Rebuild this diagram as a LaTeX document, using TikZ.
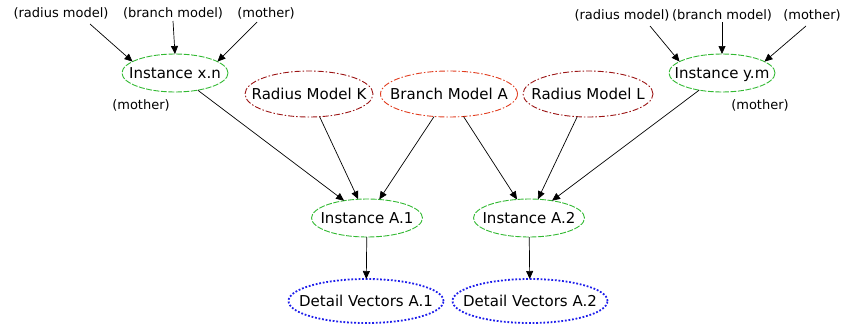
\documentclass[tikz,border=0pt]{standalone}
\usepackage{fontspec}
\setmainfont{DejaVu Sans}
\usetikzlibrary{arrows.meta,shapes.geometric}
\newcommand{\ctext}[1]{\makebox[0pt]{\raisebox{-0.36em}[0pt][0pt]{#1}}}
\begin{document}
\begin{tikzpicture}[x=1pt,y=-1pt,
  base/.style={ellipse,inner sep=0pt,outer sep=0pt,font=\fontsize{15}{17}\selectfont},
  inst/.style={base,draw={rgb,255:red,50;green,185;blue,50},line width=0.9pt,dash pattern=on 6pt off 1.5pt,minimum width=106pt,minimum height=38pt},
  radm/.style={base,draw={rgb,255:red,155;green,20;blue,20},line width=0.9pt,dash pattern=on 6pt off 2pt on 1.5pt off 2pt,minimum width=128pt,minimum height=46pt},
  bram/.style={radm,draw={rgb,255:red,225;green,60;blue,30},minimum width=137pt},
  detv/.style={base,draw={rgb,255:red,30;green,30;blue,235},line width=1.8pt,dash pattern=on 1.8pt off 1.8pt,minimum width=155pt,minimum height=44pt},
  lab/.style={font=\fontsize{13}{15}\selectfont,inner sep=0pt},
  arr/.style={-{Triangle[length=8pt,width=7pt]},line width=0.7pt}]
\useasboundingbox (0,0) rectangle (842,327);
\node[inst] (xn) at (175,73) {\ctext{Instance x.n}};
\node[radm] (rk) at (309,94) {\ctext{Radius Model K}};
\node[bram] (ba) at (449,94) {\ctext{Branch Model A}};
\node[radm,minimum width=130pt] (rl) at (588,94) {\ctext{Radius Model L}};
\node[inst] (ym) at (722,73) {\ctext{Instance y.m}};
\node[inst,minimum width=111pt] (a1) at (367,218) {\ctext{Instance A.1}};
\node[inst,minimum width=111pt] (a2) at (529,218) {\ctext{Instance A.2}};
\node[detv] (d1) at (366,301) {\ctext{Detail Vectors A.1}};
\node[detv] (d2) at (530,301) {\ctext{Detail Vectors A.2}};
\node[lab] (l1) at (61,13) {(radius model)};
\node[lab] (l2) at (173,13) {(branch model)};
\node[lab] (l3) at (266,13) {(mother)};
\node[lab] (r1) at (622,15) {(radius model)};
\node[lab] (r2) at (722,15) {(branch model)};
\node[lab] (r3) at (812,15) {(mother)};
\node[lab] (m1) at (141,105) {(mother)};
\node[lab] (m2) at (760,105) {(mother)};
\coordinate (c1) at (90,24);
\coordinate (c2) at (173,21);
\coordinate (c3) at (257,22);
\coordinate (e1) at (650,26);
\coordinate (e2) at (722,22);
\coordinate (e3) at (806,26);
\draw[arr] (c1) -- (xn.165) ;
\draw[arr] (c2) -- (xn.north);
\draw[arr] (c3) -- (xn.15);
\draw[arr] (e1) -- (ym.165);
\draw[arr] (e2) -- (ym.north);
\draw[arr] (e3) -- (ym.15);
\draw[arr] (xn) -- (a1);
\draw[arr] (rk) -- (a1);
\draw[arr] (ba) -- (a1);
\draw[arr] (ba) -- (a2);
\draw[arr] (rl) -- (a2);
\draw[arr] (ym) -- (a2);
\draw[arr] (a1) -- (d1);
\draw[arr] (a2) -- (d2);
\end{tikzpicture}
\end{document}
